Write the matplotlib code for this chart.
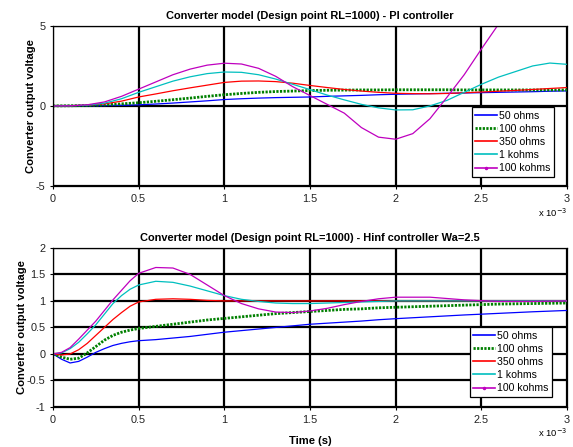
import matplotlib
matplotlib.use("Agg")
import matplotlib.pyplot as plt
from matplotlib.lines import Line2D

plt.rcParams['font.family'] = ['Liberation Sans', 'DejaVu Sans']

# time in ms (axis shows x 10^-3 s)
t_pi = [0, 0.1, 0.2, 0.3, 0.4, 0.5, 0.6, 0.7, 0.8, 0.9, 1.0, 1.1, 1.2, 1.3, 1.4, 1.5,
        1.6, 1.7, 1.8, 1.9, 2.0, 2.1, 2.2, 2.3, 2.4, 2.5, 2.6, 2.7, 2.8, 2.9, 3.0]
pi_50 = [0, 0.0, 0.01, 0.02, 0.04, 0.07, 0.12, 0.18, 0.25, 0.32, 0.4, 0.45, 0.49, 0.52, 0.54, 0.56,
         0.6, 0.63, 0.66, 0.7, 0.73, 0.75, 0.77, 0.79, 0.81, 0.83, 0.85, 0.87, 0.89, 0.92, 0.94]
pi_100 = [0, 0.01, 0.03, 0.07, 0.13, 0.2, 0.29, 0.39, 0.49, 0.6, 0.7, 0.78, 0.85, 0.9, 0.93, 0.96,
          0.98, 0.99, 1.0, 1.0, 1.01, 1.01, 1.01, 1.01, 1.0, 1.0, 1.0, 1.0, 1.0, 1.0, 1.0]
pi_350 = [0, 0.01, 0.05, 0.13, 0.3, 0.56, 0.75, 0.95, 1.13, 1.3, 1.47, 1.55, 1.56, 1.52, 1.42, 1.28,
          1.15, 1.03, 0.93, 0.85, 0.79, 0.77, 0.76, 0.78, 0.82, 0.87, 0.92, 0.97, 1.03, 1.09, 1.15]
pi_1k = [0, 0.01, 0.05, 0.17, 0.45, 0.85, 1.2, 1.55, 1.82, 2.02, 2.12, 2.1, 1.95, 1.68, 1.35, 1.02,
         0.68, 0.38, 0.1, -0.12, -0.25, -0.24, 0.0, 0.35, 0.85, 1.35, 1.8, 2.15, 2.5, 2.68, 2.6]
pi_100k = [0, 0.01, 0.07, 0.25, 0.6, 1.05, 1.5, 1.95, 2.3, 2.55, 2.67, 2.62, 2.35, 1.85, 1.2, 0.65,
           0.1, -0.45, -1.35, -1.95, -2.08, -1.73, -0.8, 0.55, 1.95, 3.55, 5.1, 6.8, 8.5, 10.2, 12.0]

t_hinf = [0, 0.05, 0.1, 0.15, 0.2, 0.25, 0.3, 0.35, 0.4, 0.45, 0.5, 0.6, 0.7, 0.8, 0.9, 1.0,
          1.1, 1.2, 1.3, 1.4, 1.5, 1.6, 1.7, 1.8, 1.9, 2.0, 2.2, 2.4, 2.6, 2.8, 3.0]
hinf_50 = [0, -0.1, -0.17, -0.14, -0.06, 0.03, 0.1, 0.16, 0.2, 0.23, 0.25, 0.27, 0.3, 0.33, 0.37, 0.41,
           0.44, 0.47, 0.5, 0.53, 0.56, 0.58, 0.6, 0.62, 0.645, 0.665, 0.7, 0.735, 0.765, 0.795, 0.82]
hinf_100 = [0, -0.06, -0.1, -0.08, 0.02, 0.14, 0.26, 0.35, 0.41, 0.45, 0.48, 0.52, 0.56, 0.6, 0.64, 0.67,
            0.7, 0.73, 0.76, 0.78, 0.8, 0.82, 0.84, 0.85, 0.87, 0.88, 0.9, 0.92, 0.94, 0.95, 0.96]
hinf_350 = [0, -0.02, 0.0, 0.08, 0.2, 0.35, 0.5, 0.65, 0.78, 0.9, 0.98, 1.03, 1.04, 1.03, 1.01, 1.0,
            1.0, 1.0, 1.0, 1.0, 1.0, 1.0, 1.0, 1.0, 1.0, 1.0, 1.0, 1.0, 1.0, 1.0, 1.0]
hinf_1k = [0, 0.02, 0.1, 0.22, 0.38, 0.55, 0.75, 0.95, 1.1, 1.22, 1.3, 1.37, 1.35, 1.28, 1.19, 1.1,
           1.03, 0.99, 0.96, 0.95, 0.95, 0.96, 0.97, 0.98, 0.99, 1.0, 1.0, 1.0, 1.0, 1.0, 1.0]
hinf_100k = [0, 0.03, 0.12, 0.28, 0.45, 0.62, 0.82, 1.02, 1.2, 1.38, 1.52, 1.63, 1.62, 1.5, 1.3, 1.1,
             0.95, 0.85, 0.79, 0.78, 0.81, 0.86, 0.93, 0.99, 1.04, 1.07, 1.07, 1.02, 0.99, 0.99, 1.0]

labels = ['50 ohms', '100 ohms', '350 ohms', '1 kohms', '100 kohms']
colors = ['#0000ff', '#008000', '#ff0000', '#00bfbf', '#bf00bf']
styles = ['-', (0, (0.8, 0.5)), '-', '-', '-']
widths = [0.9, 2.0, 0.9, 0.9, 0.9]
xticks = [0, 0.5, 1, 1.5, 2, 2.5, 3]

fig = plt.figure(figsize=(5.73, 4.47), dpi=100)
ax1 = fig.add_axes([0.0925, 0.584, 0.897, 0.358])
ax2 = fig.add_axes([0.0925, 0.0895, 0.897, 0.356])


def draw(ax, t, series, title, yticks, ylim, anchor):
    for y, c, s, w in zip(series, colors, styles, widths):
        ax.plot(t, y, color=c, linestyle=s, linewidth=w)
    ax.set_xlim(0, 3)
    ax.set_ylim(*ylim)
    ax.set_xticks(xticks)
    ax.set_xticklabels(['0', '0.5', '1', '1.5', '2', '2.5', '3'])
    ax.set_yticks(yticks)
    ax.set_yticklabels(['%g' % v for v in yticks])
    ax.grid(True, color='black', linewidth=1.6, linestyle='-')
    ax.tick_params(direction='out', labelsize=7.8, length=2.5, width=0.8, pad=3,
                   labelcolor='#222222')
    for sp in ax.spines.values():
        sp.set_linewidth(0.9)
    ax.set_title(title, fontsize=7.9, fontweight='bold', pad=5)
    ax.set_ylabel('Converter output voltage', fontsize=8.1, fontweight='bold', labelpad=0)
    ax.text(1.0, -0.125, 'x 10$^{-3}$', transform=ax.transAxes, fontsize=6.8,
            ha='right', va='top')
    handles = []
    for lab, c, s, w in zip(labels, colors, styles, widths):
        mk = '.' if lab == '100 kohms' else None
        handles.append(Line2D([0], [0], color=c, linestyle=s, linewidth=w + 0.3 if s == '-' else w,
                              marker=mk, markersize=3))
    leg = ax.legend(handles, labels, loc='lower right', bbox_to_anchor=anchor,
                    fontsize=7.6, fancybox=False, framealpha=1, edgecolor='black',
                    handlelength=2.1, handletextpad=0.15, labelspacing=0.3,
                    borderpad=0.35, borderaxespad=0)
    leg.get_frame().set_linewidth(0.9)


draw(ax1, t_pi, [pi_50, pi_100, pi_350, pi_1k, pi_100k],
     'Converter model (Design point RL=1000) - PI controller',
     [-5, 0, 5], (-5, 5), (0.975, 0.056))
draw(ax2, t_hinf, [hinf_50, hinf_100, hinf_350, hinf_1k, hinf_100k],
     'Converter model (Design point RL=1000) - Hinf controller Wa=2.5',
     [-1, -0.5, 0, 0.5, 1, 1.5, 2], (-1, 2), (0.971, 0.063))
ax2.set_xlabel('Time (s)', fontsize=8.1, fontweight='bold', labelpad=8)

fig.savefig('out.png', dpi=100)
